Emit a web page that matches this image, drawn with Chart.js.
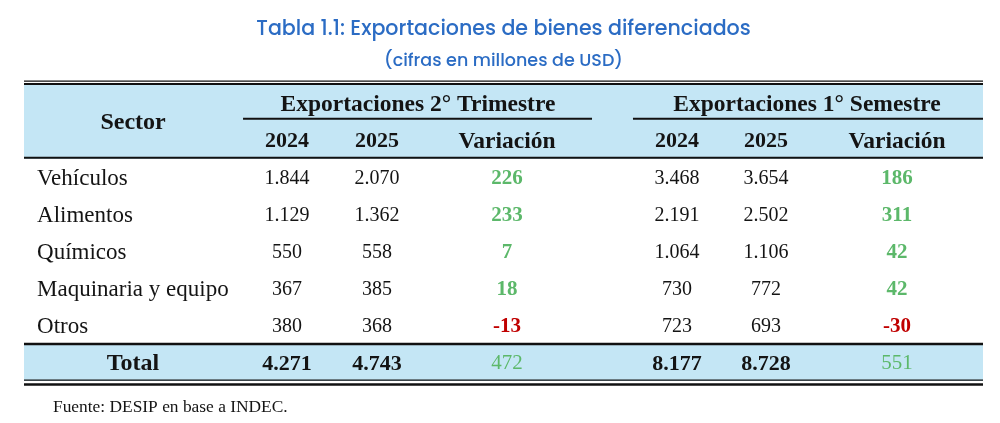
<!DOCTYPE html>
<html>
<head>
<meta charset="utf-8">
<script src="https://cdn.jsdelivr.net/npm/chart.js@4.4.1/dist/chart.umd.min.js"></script>
<style>
  html, body { margin: 0; background: #fff; }
  #wrap { width: 1000px; height: 423px; position: relative; }
</style>
</head>
<body>
<div id="wrap"><canvas id="tabla"></canvas></div>
<script>
// Datos de la tabla (millones de USD)
const sectores = ["Vehículos", "Alimentos", "Químicos", "Maquinaria y equipo", "Otros"];
const trim2024 = [1844, 1129, 550, 367, 380];
const trim2025 = [2070, 1362, 558, 385, 368];
const trimVar = [226, 233, 7, 18, -13];
const sem2024 = [3468, 2191, 1064, 730, 723];
const sem2025 = [3654, 2502, 1106, 772, 693];
const semVar = [186, 311, 42, 42, -30];
const totalTrim = [4271, 4743, 472];
const totalSem = [8177, 8728, 551];
const grupos = ["Exportaciones 2° Trimestre", "Exportaciones 1° Semestre"];
const anios = ["2024", "2025", "Variación"];

// filas del eje y : 2 de encabezado, los sectores y el total
const filas = ["grupo", "anio", ...sectores, "Total"];

const AZUL = "#c4e6f5";
const VERDE = "#5cb86a";
const ROJO = "#c00000";
const TINTA = "#141414";
const SERIF = "'Liberation Serif', 'Times New Roman', serif";
const DY = 1.5; // ajuste vertical del texto

// separador de miles "."
function fmt(n) {
  return String(n).replace(/\B(?=(\d{3})+(?!\d))/g, ".");
}

// Plugin que dibuja las celdas de texto y las líneas con las escalas del gráfico
const celdas = {
  id: "celdas",
  afterDatasetsDraw(chart, args, opts) {
    const { ctx, chartArea: a, scales: { x, y } } = chart;
    const px = (v) => x.getPixelForValue(v);
    const fila = (i) => y.getPixelForValue(i);
    const borde = (i) => (fila(i) + fila(i + 1)) / 2;
    const col = opts.columnas;

    const linea = (x1, x2, yy, w) => {
      ctx.beginPath();
      ctx.lineWidth = w;
      ctx.strokeStyle = "#111";
      ctx.moveTo(x1, yy);
      ctx.lineTo(x2, yy);
      ctx.stroke();
    };
    const texto = (t, xx, yy, font, color, align) => {
      ctx.font = font;
      ctx.fillStyle = color || TINTA;
      ctx.textAlign = align || "center";
      ctx.textBaseline = "middle";
      ctx.fillText(t, xx, yy + DY);
    };

    ctx.save();
    // bordes de la tabla
    linea(a.left, a.right, a.top - 3.5, 1.2);
    linea(a.left, a.right, a.top - 0.8, 2);
    linea(a.left, a.right, borde(1) - 1, 2);
    linea(a.left, a.right, borde(6), 2.5);
    linea(a.left, a.right, a.bottom - 0.8, 1.2);
    linea(a.left, a.right, a.bottom + 3.4, 2.5);
    // subrayado de los grupos
    linea(px(opts.subrayado[0][0]), px(opts.subrayado[0][1]), fila(0) + 15.5, 2);
    linea(px(opts.subrayado[1][0]), px(opts.subrayado[1][1]), fila(0) + 15.5, 2);

    // encabezados
    texto("Sector", px(col[0]), (fila(0) + fila(1)) / 2, "bold 24px " + SERIF);
    texto(grupos[0], px(opts.centroGrupo[0]), fila(0), "bold 23.5px " + SERIF);
    texto(grupos[1], px(opts.centroGrupo[1]), fila(0), "bold 23.5px " + SERIF);
    anios.forEach((t, i) => {
      const f = i === 2 ? "bold 23.5px " : "bold 22px ";
      texto(t, px(col[1 + i]), fila(1), f + SERIF);
      texto(t, px(col[4 + i]), fila(1), f + SERIF);
    });

    // filas de sectores
    sectores.forEach((s, i) => {
      const yy = fila(2 + i);
      texto(s, px(opts.margenSector), yy, "23px " + SERIF, TINTA, "left");
      texto(fmt(trim2024[i]), px(col[1]), yy, "20px " + SERIF);
      texto(fmt(trim2025[i]), px(col[2]), yy, "20px " + SERIF);
      texto(fmt(trimVar[i]), px(col[3]), yy, "bold 21px " + SERIF, trimVar[i] < 0 ? ROJO : VERDE);
      texto(fmt(sem2024[i]), px(col[4]), yy, "20px " + SERIF);
      texto(fmt(sem2025[i]), px(col[5]), yy, "20px " + SERIF);
      texto(fmt(semVar[i]), px(col[6]), yy, "bold 21px " + SERIF, semVar[i] < 0 ? ROJO : VERDE);
    });

    // fila total
    const yt = fila(filas.length - 1);
    texto("Total", px(col[0]), yt, "bold 24px " + SERIF);
    texto(fmt(totalTrim[0]), px(col[1]), yt, "bold 22px " + SERIF);
    texto(fmt(totalTrim[1]), px(col[2]), yt, "bold 22px " + SERIF);
    texto(fmt(totalTrim[2]), px(col[3]), yt, "21px " + SERIF, VERDE);
    texto(fmt(totalSem[0]), px(col[4]), yt, "bold 22px " + SERIF);
    texto(fmt(totalSem[1]), px(col[5]), yt, "bold 22px " + SERIF);
    texto(fmt(totalSem[2]), px(col[6]), yt, "21px " + SERIF, VERDE);

    // fuente
    texto("Fuente: DESIP en base a INDEC.", px(opts.margenFuente), a.bottom + 25, "17.4px " + SERIF, TINTA, "left");
    ctx.restore();
  },
};

// fondo celeste de encabezado y total como barras flotantes
const fondo = filas.map((f, i) => (i < 2 || f === "Total" ? [0, 100] : null));

const ctx = document.getElementById("tabla").getContext("2d");
const tabla = new Chart(ctx, {
  type: "bar",
  data: {
    labels: filas,
    datasets: [
      {
        label: "fondo",
        data: fondo,
        backgroundColor: AZUL,
        borderWidth: 0,
        barPercentage: 1,
        categoryPercentage: 1,
      },
    ],
  },
  options: {
    indexAxis: "y",
    responsive: true,
    maintainAspectRatio: false,
    animation: false,
    layout: { padding: { left: 24, right: 17, top: 0, bottom: 42 } },
    scales: {
      x: { type: "linear", min: 0, max: 100, display: false },
      y: { type: "category", offset: true, display: false },
    },
    plugins: {
      legend: { display: false },
      tooltip: { enabled: false },
      title: {
        display: true,
        text: "Tabla 1.1: Exportaciones de bienes diferenciados",
        color: "#2b6cc4",
        font: { family: "Poppins, 'Open Sans', sans-serif", size: 20.6, weight: "500", lineHeight: 1.2 },
        padding: { top: 17.6, bottom: 6 },
      },
      subtitle: {
        display: true,
        text: "(cifras en millones de USD)",
        color: "#2b6cc4",
        font: { family: "Poppins, 'Open Sans', sans-serif", size: 17.5, weight: "500", lineHeight: 1.2 },
        padding: { top: 2.5, bottom: 12.9 },
      },
      celdas: {
        // centros de columna en % del ancho de la tabla
        columnas: [11.37, 27.42, 36.81, 50.36, 68.09, 77.37, 91.03],
        centroGrupo: [41.08, 81.65],
        subrayado: [[22.84, 59.23], [63.5, 100]],
        margenSector: 1.36,
        margenFuente: 3.02,
      },
    },
  },
  plugins: [celdas],
});
</script>
</body>
</html>
